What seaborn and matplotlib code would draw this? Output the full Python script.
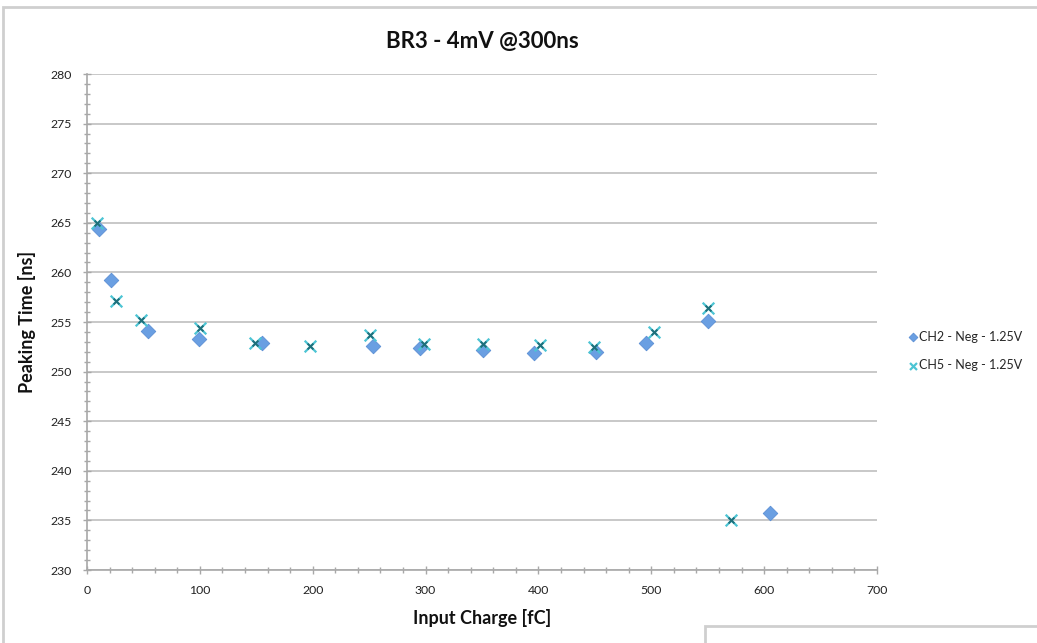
import matplotlib
matplotlib.use("Agg")
import matplotlib.pyplot as plt
import matplotlib.patches as mpatches
from matplotlib.ticker import MultipleLocator
import seaborn as sns
import pandas as pd

# ---- data ----
ch2_charge = [11, 21, 54, 99, 155, 253, 295, 351, 396, 451, 495, 550, 605]
ch2_peak = [264.4, 259.2, 254.1, 253.3, 252.9, 252.6, 252.35, 252.2, 251.85, 252.0, 252.9, 255.1, 235.7]
ch5_charge = [9, 26, 48, 100, 149, 198, 251, 299, 351, 401, 449, 502, 550, 571]
ch5_peak = [265.0, 257.15, 255.2, 254.4, 252.85, 252.6, 253.7, 252.8, 252.8, 252.7, 252.5, 254.0, 256.4, 235.0]
series_names = ["CH2 - Neg - 1.25V", "CH5 - Neg - 1.25V"]
title = "BR3 - 4mV @300ns"
xlabel = "Input Charge [fC]"
ylabel = "Peaking Time [ns]"

df2 = pd.DataFrame({"charge": ch2_charge, "peak": ch2_peak})
df5 = pd.DataFrame({"charge": ch5_charge, "peak": ch5_peak})

sns.set_theme(style="white")
plt.rcParams["font.family"] = ["Lato", "DejaVu Sans"]

fig = plt.figure(figsize=(10.37, 6.43), dpi=100)
ax = fig.add_axes([87/1037, 1-570/643, 790/1037, 496/643])

sns.scatterplot(data=df2, x="charge", y="peak", ax=ax, marker="D", s=55,
                color="#6a9fe2", edgecolor="#5b8fd4", linewidth=0.6,
                label=series_names[0], zorder=3)
sns.scatterplot(data=df5, x="charge", y="peak", ax=ax, marker="x", s=70,
                color="#4cc4d4", linewidth=1.6, label=series_names[1], zorder=4)
sns.scatterplot(data=df5, x="charge", y="peak", ax=ax, marker="x", s=18,
                color="#1f6f7a", linewidth=1.4, legend=False, zorder=5)

ax.set_xlim(0, 700)
ax.set_ylim(230, 280)
ax.xaxis.set_major_locator(MultipleLocator(100))
ax.xaxis.set_minor_locator(MultipleLocator(20))
ax.yaxis.set_major_locator(MultipleLocator(5))
ax.yaxis.set_minor_locator(MultipleLocator(1))
ax.grid(axis="y", which="major", color="#c4c4c4", linewidth=1.3)
ax.grid(axis="x", visible=False)
ax.set_axisbelow(True)
for side in ["top", "right"]:
    ax.spines[side].set_visible(False)
for side in ["left", "bottom"]:
    ax.spines[side].set_color("#a8a8a8")
    ax.spines[side].set_linewidth(1.2)
ax.tick_params(axis="both", which="major", direction="inout", length=6, width=1,
               color="#a8a8a8", labelsize=8.8, labelcolor="#222222", pad=8)
ax.tick_params(axis="both", which="minor", direction="inout", length=5, width=1,
               color="#a8a8a8")
ax.tick_params(axis="x", which="both", bottom=True)
ax.tick_params(axis="y", which="both", left=True)

ax.set_title(title, fontsize=16, fontweight="bold", pad=19, color="#111111")
ax.set_xlabel(xlabel, fontsize=13, fontweight="bold", labelpad=9, color="#111111")
ax.set_ylabel(ylabel, fontsize=13, fontweight="bold", labelpad=10, color="#111111")

leg = ax.legend(loc="center left", bbox_to_anchor=(908/1037, 1-351/643),
                bbox_transform=fig.transFigure, frameon=False, fontsize=9,
                handletextpad=0.1, labelspacing=1.35, handlelength=0.8,
                markerscale=0.6, borderaxespad=0, borderpad=0)

# outer chart border and the neighbouring box fragment
fig.patches.append(mpatches.Rectangle((3/1037, -0.02), 1.1, 1-7/643+0.02,
                                      transform=fig.transFigure, fill=False,
                                      edgecolor="#cfcfcf", linewidth=2.0))
fig.patches.append(mpatches.Rectangle((705/1037, -0.05), 0.5, 0.05+1-626/643,
                                      transform=fig.transFigure, fill=False,
                                      edgecolor="#cfcfcf", linewidth=2.0))

fig.savefig("out.png", dpi=100)
